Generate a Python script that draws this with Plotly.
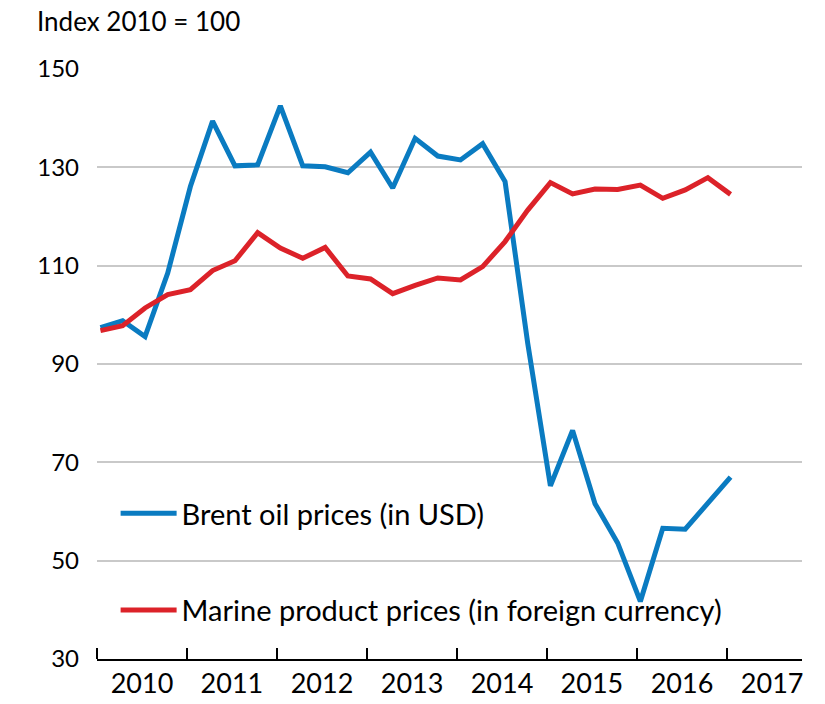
import plotly.graph_objects as go

# Quarterly observations, 2010Q1 .. 2017Q1
quarters = [f"{y}-{m:02d}-15" for y in range(2010, 2018) for m in (1, 4, 7, 10)][:29]

brent = [97.4, 98.8, 95.6, 108.5, 126.1, 139.4, 130.3, 130.5, 142.5, 130.3,
         130.1, 128.9, 133.1, 125.8, 135.9, 132.3, 131.5, 134.8, 127.1, 94.2,
         65.2, 76.5, 61.6, 53.6, 41.7, 56.6, 56.4, 61.7, 67.0]
marine = [96.8, 97.8, 101.4, 104.1, 105.1, 109.0, 111.0, 116.7, 113.6, 111.5,
          113.7, 107.9, 107.3, 104.3, 106.0, 107.5, 107.1, 109.8, 114.9, 121.3,
          126.9, 124.6, 125.6, 125.5, 126.4, 123.7, 125.4, 127.9, 124.5]

series_names = ["Brent oil prices (in USD)", "Marine product prices (in foreign currency)"]
y_ticks = [30, 50, 70, 90, 110, 130, 150]
title_text = "Index 2010 = 100"

FONT = "Lato, 'Open Sans', sans-serif"
BLUE = "#0a7bc1"
RED = "#dc2229"

fig = go.Figure()
fig.add_trace(go.Scatter(x=quarters, y=brent, mode="lines", name=series_names[0],
                         legendgroup="a",
                         line=dict(color=BLUE, width=5, shape="linear")))
fig.add_trace(go.Scatter(x=quarters, y=marine, mode="lines", name=series_names[1],
                         legendgroup="b",
                         line=dict(color=RED, width=5, shape="linear")))

fig.update_layout(
    width=825, height=704,
    margin=dict(l=97, r=23, t=69, b=45, autoexpand=False),
    paper_bgcolor="white", plot_bgcolor="white",
    font=dict(family=FONT, size=24, color="black"),
    showlegend=True,
    legend=dict(x=0.0264, y=0.29, xanchor="left", yanchor="top",
                bgcolor="rgba(0,0,0,0)", font=dict(size=29, family=FONT),
                tracegroupgap=56, traceorder="grouped", itemwidth=56),
    xaxis=dict(
        type="date", automargin=False,
        range=["2010-01-01", "2017-11-01"],
        tick0="2010-01-01", dtick="M12", tickformat="%Y",
        ticklabelmode="period",
        ticks="inside", ticklen=11, tickwidth=1.5, tickcolor="black",
        showline=True, linecolor="black", linewidth=2,
        showgrid=False, zeroline=False,
        tickfont=dict(size=27, family=FONT),
    ),
    yaxis=dict(
        automargin=False,
        range=[30, 150], tickvals=y_ticks,
        showgrid=True, gridcolor="#c9c9c9", gridwidth=2,
        showline=False, zeroline=False, ticks="",
        ticklabelstandoff=17,
        tickfont=dict(size=24, family=FONT),
    ),
    annotations=[dict(text=title_text, xref="paper", yref="paper",
                      x=-0.0865, y=1.081, xanchor="left", yanchor="middle",
                      borderpad=0,
                      showarrow=False, font=dict(size=26, family=FONT))],
)

fig.write_html("out.html",
               config={"displayModeBar": False},
               post_script="document.body.style.margin='0';document.body.style.padding='0';")
